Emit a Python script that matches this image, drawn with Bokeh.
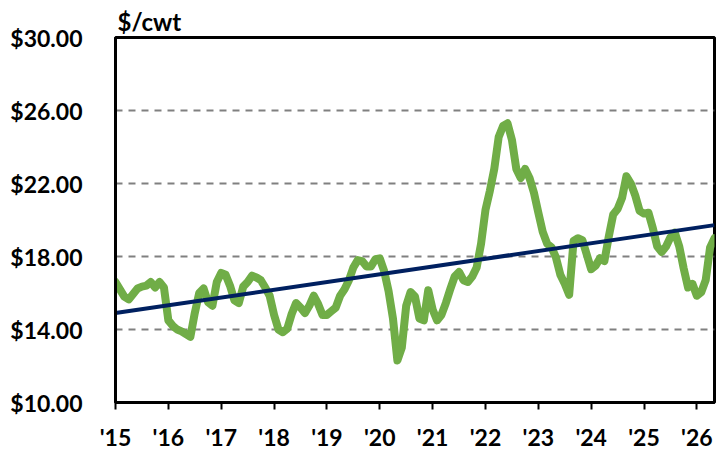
from bokeh.plotting import figure
from bokeh.models import Range1d, FixedTicker, NumeralTickFormatter
from bokeh.embed import file_html
from bokeh.resources import INLINE

# ---- data ----
start_year = 2015  # first observation: January 2015, monthly
price = [
    16.6, 16.2, 15.8, 15.65, 15.95, 16.25, 16.35, 16.4, 16.6, 16.3, 16.6, 16.3,
    14.5, 14.2, 14.0, 13.9, 13.75, 13.6, 14.9, 16.0, 16.25, 15.5, 15.3, 16.6,
    17.1, 17.0, 16.4, 15.6, 15.45, 16.35, 16.6, 16.95, 16.85, 16.7, 16.3, 15.85,
    14.8, 14.0, 13.85, 14.05, 14.85, 15.45, 15.2, 14.9, 15.3, 15.85, 15.4, 14.8,
    14.8, 15.0, 15.2, 15.85, 16.2, 16.7, 17.4, 17.8, 17.75, 17.45, 17.45, 17.85,
    17.9, 17.2, 16.1, 14.6, 12.3, 13.0, 15.3, 16.05, 15.8, 14.6, 14.5, 16.15,
    15.1, 14.5, 14.8, 15.45, 16.2, 16.9, 17.15, 16.7, 16.6, 16.9, 17.4, 18.7,
    20.55, 21.6, 22.8, 24.55, 25.15, 25.3, 24.4, 22.8, 22.3, 22.8, 22.3, 21.5,
    20.4, 19.35, 18.7, 18.5, 17.95, 17.0, 16.5, 15.9, 18.85, 19.0, 18.9, 18.1,
    17.3, 17.5, 17.9, 17.75, 19.1, 20.3, 20.6, 21.2, 22.4, 22.0, 21.35, 20.5,
    20.35, 20.4, 19.55, 18.55, 18.25, 18.55, 19.05, 19.3, 18.55, 17.35, 16.3, 16.5,
    15.85, 16.05, 16.7, 18.5, 19.0,
]
trend_years = [2015.0, 2015 + 136 / 12]
trend_values = [14.9, 19.72]
year_ticks = list(range(2015, 2027))
year_labels = ["'15", "'16", "'17", "'18", "'19", "'20", "'21", "'22", "'23", "'24", "'25", "'26"]
y_ticks = [10, 14, 18, 22, 26, 30]
grid_ticks = [14, 18, 22, 26]
unit_label = "$/cwt"

x = [start_year + i / 12 for i in range(len(price))]

FONT = "Lato"

p = figure(width=716, height=453, output_backend="svg", toolbar_location=None,
           x_range=Range1d(2015, 2015 + 136 / 12), y_range=Range1d(10, 30),
           min_border_left=115, min_border_right=2, min_border_top=37, min_border_bottom=51)
p.background_fill_color = "white"
p.border_fill_color = "white"
p.outline_line_color = "black"
p.outline_line_width = 3

p.line(x, price, line_color="#70AD47", line_width=8, line_join="round", line_cap="round")
p.line(trend_years, trend_values, line_color="#002060", line_width=4)

# title
p.title.text = unit_label
p.title.align = "left"
p.title.offset = 2
p.title.standoff = 3
p.title.text_font = FONT
p.title.text_font_style = "bold"
p.title.text_font_size = "24px"
p.title.text_color = "black"

# grid
p.xgrid.visible = False
p.ygrid.ticker = FixedTicker(ticks=grid_ticks)
p.ygrid.grid_line_color = "#808080"
p.ygrid.grid_line_width = 2
p.ygrid.grid_line_dash = "7 6"

# y axis
p.yaxis.ticker = FixedTicker(ticks=y_ticks)
p.yaxis.formatter = NumeralTickFormatter(format="$0.00")
p.yaxis.major_tick_out = 0
p.yaxis.major_tick_in = 0
p.yaxis.minor_tick_out = 0
p.yaxis.minor_tick_in = 0
p.yaxis.axis_line_color = "black"
p.yaxis.axis_line_width = 3
p.yaxis.major_label_standoff = 33
p.yaxis.major_label_text_font = FONT
p.yaxis.major_label_text_font_style = "bold"
p.yaxis.major_label_text_font_size = "23px"
p.yaxis.major_label_text_color = "black"

# x axis
p.xaxis.ticker = FixedTicker(ticks=year_ticks)
p.xaxis.major_label_overrides = {yr: lab for yr, lab in zip(year_ticks, year_labels)}
p.xaxis.major_tick_out = 7
p.xaxis.major_tick_in = 0
p.xaxis.major_tick_line_width = 2
p.xaxis.major_tick_line_color = "black"
p.xaxis.minor_tick_out = 0
p.xaxis.minor_tick_in = 0
p.xaxis.axis_line_color = "black"
p.xaxis.axis_line_width = 3
p.xaxis.major_label_standoff = 13
p.xaxis.major_label_text_font = FONT
p.xaxis.major_label_text_font_style = "bold"
p.xaxis.major_label_text_font_size = "23px"
p.xaxis.major_label_text_color = "black"

open("out.html", "w").write(file_html(p, INLINE))
